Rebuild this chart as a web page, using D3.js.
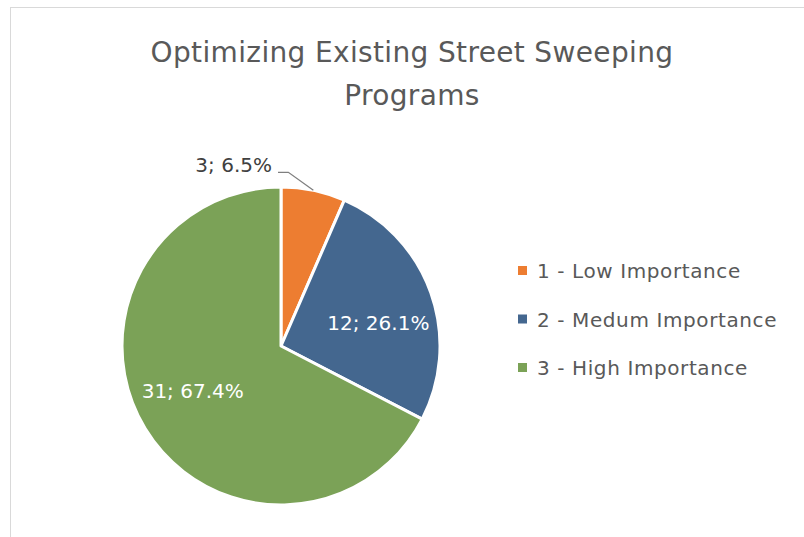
<!DOCTYPE html>
<html>
<head>
<meta charset="utf-8">
<script src="https://cdn.jsdelivr.net/npm/d3@7"></script>
<style>
  body { margin: 0; background: #fff; }
  svg { display: block; font-family: "DejaVu Sans", sans-serif; }
</style>
</head>
<body>
<svg id="chart"></svg>
<script>
// chart data
const categories = ["1 - Low Importance", "2 - Medum Importance", "3 - High Importance"];
const counts = [3, 12, 31];
const percents = ["6.5%", "26.1%", "67.4%"];
const titleLines = ["Optimizing Existing Street Sweeping", "Programs"];

const width = 804, height = 537;
const svg = d3.select("#chart").attr("width", width).attr("height", height);

// chart area border (only top/left visible in the crop)
svg.append("rect")
  .attr("x", 10.5).attr("y", 7.5)
  .attr("width", 820).attr("height", 560)
  .attr("fill", "none").attr("stroke", "#d9d9d9").attr("stroke-width", 1);

/** title */
svg.selectAll(".title").data(titleLines).join("text")
  .attr("class", "title")
  .attr("x", 412)
  .attr("y", (d, i) => 62 + i * 43)
  .attr("text-anchor", "middle")
  .attr("font-size", "28px")
  .attr("letter-spacing", "0.35px")
  .attr("fill", "#595959")
  .text(d => d);

const color = d3.scaleOrdinal()
  .domain(categories)
  .range(["#ED7D31", "#44678F", "#7BA257"]);

const cx = 281, cy = 346, r = 159;
const data = categories.map((c, i) => ({ cat: c, n: counts[i], pct: percents[i] }));
const pie = d3.pie().sort(null).value(d => d.n);
const arcs = pie(data);
const arc = d3.arc().innerRadius(0).outerRadius(r);

const g = svg.append("g").attr("transform", `translate(${cx},${cy})`);
g.selectAll(".slice").data(arcs).join("path")
  .attr("class", "slice")
  .attr("d", arc)
  .attr("fill", d => color(d.data.cat))
  .attr("stroke", "#fff")
  .attr("stroke-width", 3)
  .attr("stroke-linejoin", "round");

/** data labels: small slice gets an outside label with leader line */
const innerLabel = d3.arc().innerRadius(r * 0.65).outerRadius(r * 0.65);
const edgeArc = d3.arc().innerRadius(r).outerRadius(r);
const labelNudge = [0, 12, -9]; // excel places inner labels a bit off-centroid

arcs.forEach((a, i) => {
  const txt = a.data.n + "; " + a.data.pct;
  if (i === 0) {
    const edge = edgeArc.centroid(a);
    const ly = edge[1] - 18;
    g.append("path")
      .attr("d", d3.line()([[edge[0], edge[1]], [edge[0] - 25, ly], [-3, ly]]))
      .attr("fill", "none").attr("stroke", "#7f7f7f").attr("stroke-width", 1.3);
    g.append("text")
      .attr("x", -9).attr("y", ly)
      .attr("text-anchor", "end")
      .attr("font-size", "20px").attr("fill", "#404040")
      .text(txt);
  } else {
    const c = innerLabel.centroid(a);
    g.append("text")
      .attr("x", c[0]).attr("y", c[1] + 7 + labelNudge[i])
      .attr("text-anchor", "middle")
      .attr("font-size", "20px").attr("fill", "#fff")
      .text(txt);
  }
});

/** legend */
const legend = svg.selectAll(".legend").data(categories).join("g")
  .attr("class", "legend")
  .attr("transform", (d, i) => `translate(518,${271 + i * 48.5})`);
legend.append("rect")
  .attr("x", 0).attr("y", -5)
  .attr("width", 9).attr("height", 9)
  .attr("fill", d => color(d));
legend.append("text")
  .attr("x", 19).attr("y", 7)
  .attr("font-size", "20px")
  .attr("letter-spacing", "0.6px")
  .attr("fill", "#595959")
  .text(d => d);
</script>
</body>
</html>
